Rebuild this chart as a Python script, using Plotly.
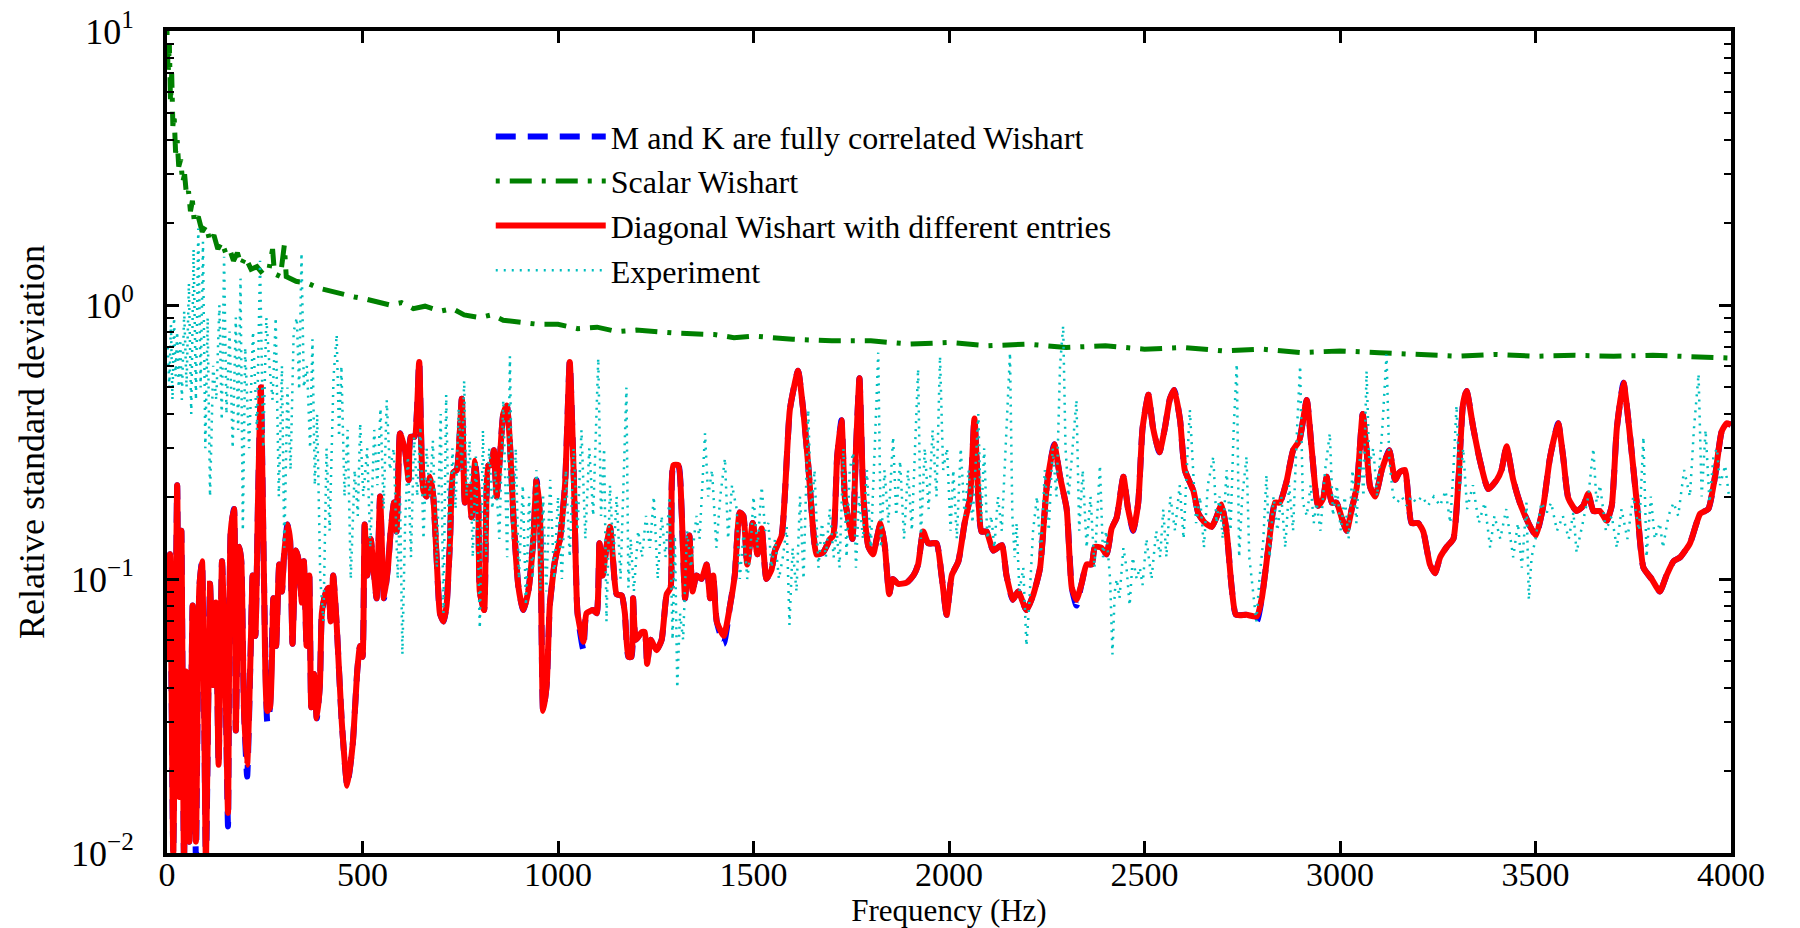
import plotly.graph_objects as go

# ---------------- data ----------------
red_f = [0, 7.7, 16, 26, 31.5, 36.7, 43.5, 48.6, 57, 65.6, 74, 82.7, 89.5, 99.7, 110, 118, 125, 132,
         140.7, 149, 156, 163, 171.4, 176, 185, 190, 197, 205, 214, 219, 226, 233, 240, 248, 256.6,
         263.4, 272, 279, 287, 294, 299, 308, 314.6, 321, 330, 337, 345, 350, 357, 364, 369, 376,
         383, 391, 396, 405, 412.6, 418.6, 425, 434, 447, 461, 475, 487, 493.6, 500, 505.5, 512,
         521, 528, 536, 545, 555, 565, 572, 580.6, 587, 596, 604, 609, 618, 623, 633, 645, 655.6,
         664, 672.6, 681, 690, 698, 707, 715, 724, 732, 741, 754, 762, 771, 779, 788, 796, 800,
         811, 822, 829, 836, 843, 852, 860, 869, 877, 886, 899, 911, 924, 937, 945, 954, 962, 971,
         979, 992, 1005, 1018, 1030, 1041, 1050, 1065, 1073, 1090, 1099, 1106, 1114, 1124, 1133,
         1141, 1150, 1163, 1171, 1180, 1188, 1192, 1199, 1214, 1222, 1228, 1237, 1252, 1265, 1278,
         1288, 1295, 1308, 1316, 1325, 1336, 1344, 1354, 1367, 1380, 1389, 1397, 1406, 1424, 1440,
         1452, 1465, 1474, 1484, 1498, 1510, 1521, 1533, 1546, 1555, 1572, 1593, 1614, 1627, 1640,
         1653, 1661, 1678, 1696, 1704, 1714, 1725, 1734, 1747, 1753, 1762, 1771, 1781, 1794, 1806,
         1815, 1825, 1836, 1847, 1856, 1870, 1892, 1909, 1921, 1934, 1947, 1968, 1981, 1994, 2007,
         2024, 2040, 2054, 2065, 2075, 2083, 2096, 2113, 2135, 2147, 2163, 2177, 2198, 2216, 2233,
         2250, 2269, 2284, 2301, 2314, 2326, 2339, 2352, 2365, 2373, 2390, 2403, 2416, 2429, 2446,
         2458, 2471, 2484, 2495, 2510, 2522, 2538, 2552, 2565, 2576, 2591, 2603, 2625, 2638, 2655,
         2672, 2684, 2697, 2710, 2723, 2734, 2761, 2787, 2800, 2817, 2834, 2846, 2863, 2880, 2896,
         2915, 2927, 2944, 2957, 2966, 2979, 2991, 3004, 3017, 3030, 3043, 3058, 3068, 3077, 3090,
         3107, 3126, 3141, 3152, 3166, 3183, 3200, 3213, 3230, 3243, 3256, 3273, 3290, 3303, 3315,
         3324, 3341, 3358, 3379, 3401, 3413, 3426, 3443, 3460, 3482, 3501, 3520, 3537, 3558, 3571,
         3584, 3605, 3622, 3635, 3648, 3665, 3682, 3695, 3708, 3725, 3742, 3759, 3776, 3797, 3818,
         3835, 3853, 3870, 3895, 3921, 3942, 3959, 3976, 3989, 4000]
red_v = [0.05, 0.123, 0.01, 0.22, 0.016, 0.15, 0.009, 0.046, 0.011, 0.08, 0.011, 0.093, 0.116, 0.009,
         0.096, 0.041, 0.082, 0.021, 0.116, 0.047, 0.014, 0.149, 0.18, 0.028, 0.131, 0.116, 0.033,
         0.021, 0.055, 0.103, 0.062, 0.2, 0.5, 0.10, 0.033, 0.034, 0.085, 0.057, 0.113, 0.09, 0.12,
         0.158, 0.14, 0.058, 0.127, 0.116, 0.082, 0.116, 0.057, 0.103, 0.034, 0.045, 0.031, 0.041,
         0.075, 0.088, 0.093, 0.07, 0.103, 0.068, 0.03, 0.0176, 0.025, 0.047, 0.057, 0.052, 0.158,
         0.103, 0.14, 0.11, 0.085, 0.20, 0.085, 0.11, 0.149, 0.19, 0.149, 0.34, 0.314, 0.295, 0.23,
         0.33, 0.33, 0.62, 0.21, 0.20, 0.236, 0.2, 0.116, 0.075, 0.07, 0.08, 0.14, 0.245, 0.25,
         0.455, 0.19, 0.217, 0.168, 0.27, 0.19, 0.09, 0.077, 0.26, 0.26, 0.295, 0.20, 0.285, 0.40,
         0.43, 0.314, 0.168, 0.093, 0.077, 0.09, 0.14, 0.23, 0.168, 0.033, 0.041, 0.08, 0.116, 0.14,
         0.22, 0.62, 0.22, 0.075, 0.059, 0.075, 0.077, 0.075, 0.135, 0.103, 0.131, 0.155, 0.116,
         0.088, 0.087, 0.075, 0.052, 0.052, 0.085, 0.06, 0.064, 0.064, 0.049, 0.06, 0.055, 0.06,
         0.088, 0.093, 0.26, 0.26, 0.18, 0.085, 0.144, 0.09, 0.103, 0.1, 0.113, 0.085, 0.103, 0.07,
         0.062, 0.08, 0.103, 0.175, 0.17, 0.113, 0.16, 0.123, 0.153, 0.1, 0.108, 0.127, 0.144,
         0.415, 0.575, 0.415, 0.26, 0.149, 0.123, 0.125, 0.14, 0.144, 0.28, 0.38, 0.195, 0.153,
         0.14, 0.295, 0.54, 0.2, 0.131, 0.123, 0.14, 0.16, 0.131, 0.088, 0.1, 0.096, 0.097, 0.103,
         0.113, 0.149, 0.135, 0.135, 0.103, 0.074, 0.103, 0.116, 0.16, 0.20, 0.385, 0.2, 0.149,
         0.149, 0.127, 0.133, 0.103, 0.084, 0.09, 0.077, 0.088, 0.11, 0.217, 0.31, 0.236, 0.18,
         0.093, 0.084, 0.096, 0.113, 0.113, 0.131, 0.13, 0.123, 0.153, 0.168, 0.236, 0.18, 0.15,
         0.19, 0.355, 0.47, 0.355, 0.29, 0.355, 0.455, 0.49, 0.38, 0.25, 0.21, 0.173, 0.16, 0.155,
         0.168, 0.187, 0.149, 0.093, 0.074, 0.074, 0.073, 0.085, 0.131, 0.19, 0.19, 0.226, 0.295,
         0.32, 0.45, 0.305, 0.185, 0.197, 0.236, 0.19, 0.19, 0.168, 0.15, 0.18, 0.217, 0.40, 0.295,
         0.217, 0.2, 0.25, 0.295, 0.23, 0.245, 0.25, 0.16, 0.16, 0.149, 0.113, 0.105, 0.12, 0.131,
         0.14, 0.23, 0.44, 0.485, 0.355, 0.27, 0.213, 0.23, 0.25, 0.305, 0.23, 0.19, 0.16, 0.144,
         0.185, 0.277, 0.37, 0.277, 0.197, 0.177, 0.185, 0.205, 0.177, 0.177, 0.163, 0.185, 0.355,
         0.52, 0.33, 0.19, 0.11, 0.1, 0.09, 0.103, 0.116, 0.12, 0.135, 0.173, 0.18, 0.236, 0.345,
         0.37, 0.365]

# "M and K fully correlated" follows the diagonal model almost exactly; it only
# shows through in a few troughs where it dips slightly lower.
blue_f = list(red_f)
blue_v = list(red_v)
blue_dips = {74: 0.0095, 156: 0.0125, 205: 0.019, 256.6: 0.030, 1065: 0.055, 1424: 0.058,
             2326: 0.080, 2787: 0.070}

green_f = [0, 3, 6, 9, 12, 15, 18, 22, 26, 30, 35, 40, 45, 50, 55, 60, 65, 70, 80, 90, 100, 110,
           120, 130, 140, 150, 160, 170, 180, 190, 200, 215, 230, 245, 260, 270, 275, 290, 300,
           305, 330, 360, 390, 420, 450, 480, 510, 540, 570, 600, 630, 660, 700, 730, 760, 800,
           830, 860, 900, 950, 1000, 1050, 1100, 1150, 1200, 1300, 1400, 1450, 1500, 1600, 1700,
           1800, 1900, 2000, 2100, 2200, 2300, 2400, 2500, 2600, 2700, 2800, 2900, 3000, 3100,
           3200, 3300, 3400, 3500, 3600, 3700, 3800, 3900, 4000]
green_v = [10, 7, 9, 5.5, 7, 4.5, 5, 3.6, 4, 3.2, 3.4, 2.8, 3.0, 2.5, 2.6, 2.2, 2.4, 2.0, 2.1,
           1.85, 1.95, 1.7, 1.8, 1.6, 1.7, 1.55, 1.6, 1.45, 1.55, 1.4, 1.5, 1.35, 1.38, 1.3, 1.33,
           1.6, 1.3, 1.27, 1.65, 1.27, 1.22, 1.2, 1.15, 1.12, 1.1, 1.07, 1.05, 1.03, 1.0, 1.02,
           0.97, 0.99, 0.95, 0.97, 0.92, 0.9, 0.92, 0.88, 0.87, 0.85, 0.85, 0.82, 0.83, 0.8, 0.81,
           0.79, 0.78, 0.76, 0.77, 0.75, 0.74, 0.74, 0.72, 0.73, 0.71, 0.72, 0.70, 0.71, 0.69,
           0.70, 0.68, 0.69, 0.67, 0.68, 0.67, 0.66, 0.65, 0.66, 0.65, 0.655, 0.65, 0.655, 0.645,
           0.64]

cyan_pts = [
    (2, 0.7), (6, 0.5), (10, 0.85), (14, 0.45), (18, 0.9), (22, 0.55), (26, 0.8), (30, 0.5),
    (34, 0.75), (38, 0.45), (44, 0.95), (50, 0.5), (56, 1.2), (62, 0.4), (68, 1.6), (74, 0.45),
    (80, 1.9), (86, 0.5), (92, 1.7), (98, 0.3), (104, 0.9), (110, 0.2), (118, 0.6), (126, 0.45),
    (134, 1.0), (140, 0.38), (146, 1.5), (152, 0.4), (160, 0.8), (168, 0.3), (176, 0.9),
    (182, 0.35), (188, 1.25), (194, 0.15), (200, 0.7), (210, 0.3), (220, 0.8), (230, 0.35),
    (238, 1.45), (246, 0.3), (254, 0.9), (262, 0.6), (270, 0.45), (278, 0.9), (286, 0.2),
    (294, 0.6), (300, 0.13), (308, 0.5), (316, 0.25), (324, 0.8), (332, 0.9), (338, 0.49),
    (344, 1.55), (350, 0.5), (358, 0.6), (366, 0.3), (372, 0.75), (378, 0.22), (384, 0.4),
    (392, 0.1), (400, 0.07), (408, 0.3), (416, 0.15), (426, 0.55), (434, 0.78), (440, 0.33),
    (446, 0.6), (454, 0.2), (462, 0.35), (470, 0.1), (480, 0.25), (488, 0.17), (494, 0.37),
    (502, 0.2), (512, 0.3), (520, 0.13), (530, 0.35), (538, 0.22), (546, 0.42), (554, 0.18),
    (562, 0.45), (570, 0.25), (580, 0.3), (590, 0.1), (596, 0.2), (602, 0.053), (609, 0.16),
    (616, 0.28), (624, 0.12), (632, 0.33), (640, 0.2), (648, 0.36), (656, 0.14), (664, 0.3),
    (672, 0.2), (680, 0.32), (690, 0.11), (700, 0.4), (707, 0.075), (714, 0.47), (722, 0.12),
    (730, 0.3), (738, 0.18), (746, 0.42), (754, 0.25), (760, 0.53), (766, 0.2), (774, 0.32),
    (782, 0.12), (790, 0.28), (800, 0.066), (808, 0.35), (816, 0.12), (824, 0.3), (832, 0.18),
    (840, 0.25), (850, 0.14), (860, 0.45), (870, 0.12), (877, 0.65), (884, 0.14), (892, 0.3),
    (900, 0.1), (910, 0.22), (918, 0.08), (926, 0.2), (935, 0.1), (945, 0.25), (955, 0.09),
    (962, 0.2), (970, 0.09), (980, 0.23), (990, 0.1), (1000, 0.2), (1010, 0.1), (1020, 0.25),
    (1030, 0.12), (1040, 0.3), (1050, 0.15), (1060, 0.35), (1070, 0.14), (1080, 0.3),
    (1090, 0.17), (1103, 0.64), (1110, 0.17), (1118, 0.3), (1124, 0.07), (1133, 0.22),
    (1142, 0.12), (1150, 0.2), (1160, 0.1), (1168, 0.25), (1175, 0.5), (1180, 0.093),
    (1186, 0.14), (1194, 0.09), (1205, 0.15), (1215, 0.12), (1225, 0.17), (1235, 0.13),
    (1245, 0.2), (1255, 0.1), (1265, 0.17), (1275, 0.12), (1285, 0.2), (1293, 0.06),
    (1299, 0.144), (1305, 0.04), (1312, 0.075), (1320, 0.06), (1330, 0.15), (1340, 0.11),
    (1354, 0.17), (1362, 0.14), (1376, 0.34), (1384, 0.2), (1394, 0.25), (1405, 0.13),
    (1415, 0.2), (1427, 0.276), (1435, 0.14), (1445, 0.22), (1457, 0.18), (1465, 0.1),
    (1475, 0.15), (1484, 0.1), (1491, 0.12), (1500, 0.2), (1510, 0.13), (1521, 0.217),
    (1530, 0.15), (1538, 0.16), (1546, 0.11), (1555, 0.14), (1565, 0.1), (1575, 0.12),
    (1585, 0.155), (1592, 0.068), (1600, 0.13), (1610, 0.09), (1619, 0.2), (1628, 0.1),
    (1640, 0.415), (1648, 0.17), (1656, 0.25), (1666, 0.11), (1675, 0.16), (1685, 0.12),
    (1695, 0.18), (1705, 0.12), (1713, 0.15), (1720, 0.11), (1730, 0.3), (1738, 0.12),
    (1746, 0.25), (1755, 0.29), (1762, 0.11), (1770, 0.2), (1780, 0.14), (1790, 0.25),
    (1800, 0.13), (1810, 0.3), (1819, 0.67), (1826, 0.13), (1835, 0.25), (1845, 0.16),
    (1857, 0.33), (1865, 0.17), (1875, 0.27), (1885, 0.14), (1895, 0.25), (1905, 0.15),
    (1913, 0.3), (1921, 0.585), (1928, 0.14), (1938, 0.3), (1948, 0.18), (1958, 0.35),
    (1968, 0.2), (1977, 0.65), (1985, 0.25), (1995, 0.3), (2004, 0.15), (2011, 0.25),
    (2020, 0.14), (2030, 0.3), (2040, 0.17), (2050, 0.25), (2060, 0.16), (2075, 0.4),
    (2082, 0.16), (2090, 0.3), (2098, 0.14), (2108, 0.17), (2116, 0.13), (2125, 0.2),
    (2135, 0.15), (2145, 0.3), (2156, 0.67), (2162, 0.17), (2168, 0.12), (2173, 0.16),
    (2180, 0.09), (2190, 0.11), (2198, 0.057), (2205, 0.08), (2215, 0.15), (2225, 0.2),
    (2235, 0.12), (2245, 0.25), (2255, 0.15), (2265, 0.3), (2275, 0.2), (2284, 0.6),
    (2292, 0.84), (2298, 0.3), (2306, 0.2), (2316, 0.3), (2326, 0.45), (2333, 0.15),
    (2342, 0.25), (2352, 0.13), (2362, 0.2), (2372, 0.11), (2380, 0.18), (2386, 0.26),
    (2394, 0.12), (2402, 0.15), (2412, 0.1), (2418, 0.053), (2424, 0.09), (2429, 0.1),
    (2436, 0.085), (2446, 0.13), (2454, 0.11), (2462, 0.08), (2470, 0.12), (2480, 0.1),
    (2488, 0.11), (2495, 0.095), (2505, 0.14), (2518, 0.1), (2530, 0.15), (2540, 0.12),
    (2548, 0.18), (2556, 0.12), (2566, 0.2), (2578, 0.15), (2590, 0.22), (2600, 0.14),
    (2608, 0.25), (2616, 0.415), (2625, 0.24), (2632, 0.16), (2642, 0.2), (2652, 0.13),
    (2662, 0.22), (2676, 0.28), (2684, 0.16), (2692, 0.2), (2700, 0.14), (2710, 0.25),
    (2720, 0.15), (2728, 0.35), (2736, 0.61), (2742, 0.12), (2750, 0.2), (2761, 0.28),
    (2768, 0.12), (2778, 0.09), (2786, 0.07), (2794, 0.1), (2804, 0.14), (2812, 0.24),
    (2820, 0.12), (2830, 0.2), (2840, 0.15), (2850, 0.2), (2860, 0.13), (2870, 0.22),
    (2880, 0.15), (2890, 0.35), (2898, 0.6), (2905, 0.19), (2915, 0.17), (2925, 0.22),
    (2933, 0.16), (2940, 0.19), (2950, 0.15), (2962, 0.25), (2974, 0.34), (2982, 0.17),
    (2992, 0.22), (3002, 0.15), (3012, 0.2), (3022, 0.14), (3032, 0.25), (3042, 0.16),
    (3052, 0.3), (3060, 0.2), (3068, 0.575), (3075, 0.26), (3085, 0.3), (3095, 0.2),
    (3108, 0.35), (3119, 0.66), (3126, 0.27), (3136, 0.2), (3146, 0.19), (3158, 0.2),
    (3170, 0.185), (3182, 0.2), (3195, 0.19), (3210, 0.2), (3225, 0.185), (3240, 0.2),
    (3256, 0.185), (3270, 0.21), (3282, 0.16), (3290, 0.25), (3298, 0.43), (3306, 0.21),
    (3315, 0.3), (3325, 0.18), (3340, 0.22), (3355, 0.16), (3370, 0.19), (3384, 0.13),
    (3395, 0.17), (3410, 0.14), (3425, 0.18), (3443, 0.12), (3455, 0.16), (3465, 0.11),
    (3477, 0.19), (3483, 0.084), (3490, 0.12), (3500, 0.14), (3515, 0.19), (3529, 0.175),
    (3540, 0.19), (3555, 0.15), (3570, 0.17), (3585, 0.14), (3597, 0.175), (3605, 0.125),
    (3620, 0.16), (3635, 0.2), (3648, 0.3), (3656, 0.19), (3665, 0.22), (3680, 0.15),
    (3695, 0.17), (3708, 0.13), (3720, 0.18), (3735, 0.14), (3750, 0.2), (3765, 0.15),
    (3776, 0.33), (3784, 0.12), (3795, 0.2), (3805, 0.14), (3818, 0.16), (3826, 0.13),
    (3840, 0.17), (3853, 0.19), (3865, 0.17), (3880, 0.25), (3895, 0.2), (3905, 0.35),
    (3917, 0.56), (3925, 0.2), (3935, 0.35), (3945, 0.19), (3955, 0.28), (3964, 0.3),
    (3972, 0.22), (3985, 0.26), (3995, 0.2)]
cyan_f = [p[0] for p in cyan_pts]
cyan_v = [p[1] for p in cyan_pts]

y_tickvals = [0.01, 0.1, 1, 10]
y_ticktext = ["10<sup>\u22122</sup>", "10<sup>\u22121</sup>", "10<sup>0</sup>", "10<sup>1</sup>"]
x_tickvals = [0, 500, 1000, 1500, 2000, 2500, 3000, 3500, 4000]

names = ["M and K are fully correlated Wishart", "Scalar Wishart",
         "Diagonal Wishart with different entries", "Experiment"]

# apply the few visible blue dips
for i, f in enumerate(blue_f):
    if f in blue_dips:
        blue_v[i] = blue_dips[f]

minor_vals = [m * d for d in (0.01, 0.1, 1) for m in range(2, 10)]

# ---------------- figure ----------------
fig = go.Figure()
fig.add_trace(go.Scatter(x=blue_f, y=blue_v, mode="lines", name=names[0],
                         line=dict(color="#0000FF", width=6, dash="20px,12px",
                                   shape="spline", smoothing=0.5)))
fig.add_trace(go.Scatter(x=green_f, y=green_v, mode="lines", name=names[1],
                         line=dict(color="#008000", width=5, dash="4px,10px,22px,10px")))
fig.add_trace(go.Scatter(x=red_f, y=red_v, mode="lines", name=names[2],
                         line=dict(color="#FF0000", width=6, shape="spline", smoothing=0.5)))
fig.add_trace(go.Scatter(x=cyan_f, y=cyan_v, mode="lines", name=names[3],
                         line=dict(color="#00BFBF", width=2.5, dash="2px,6px")))

fig.update_layout(
    width=1800, height=928,
    margin=dict(l=167, r=69, t=31, b=75),
    paper_bgcolor="white", plot_bgcolor="white",
    font=dict(family="Liberation Serif", color="black"),
    showlegend=True,
    legend=dict(x=0.207, y=0.905, xanchor="left", yanchor="top",
                bgcolor="rgba(0,0,0,0)", borderwidth=0,
                font=dict(family="Liberation Serif", size=32, color="black"),
                itemwidth=110, tracegroupgap=0),
)
fig.update_xaxes(
    range=[0, 4000], tickvals=x_tickvals, ticks="inside", ticklen=12, tickwidth=3,
    tickcolor="black", showline=True, linewidth=4, linecolor="black", mirror="ticks",
    showgrid=False, zeroline=False, automargin=False, ticklabelstandoff=-12,
    tickfont=dict(family="Liberation Serif", size=34, color="black"),
    title=dict(text="Frequency (Hz)", font=dict(family="Liberation Serif", size=31,
                                                color="black"), standoff=2),
)
fig.update_yaxes(
    type="log", range=[-2, 1], tickvals=y_tickvals, ticktext=y_ticktext,
    ticks="inside", ticklen=12, tickwidth=3, tickcolor="black",
    showline=True, linewidth=4, linecolor="black", mirror="ticks",
    showgrid=False, zeroline=False, tickfont=dict(family="Liberation Serif", size=36,
                                                  color="black"),
    automargin=False, ticklabelstandoff=22,
    minor=dict(tickvals=minor_vals, ticks="inside", ticklen=7, tickwidth=2,
               tickcolor="black", showgrid=False),
    title=dict(text="Relative standard deviation", font=dict(family="Liberation Serif", size=36,
                                                             color="black"), standoff=16),
)

fig.write_html("out.html", config={"displayModeBar": False},
               post_script="document.body.style.margin='0';")
